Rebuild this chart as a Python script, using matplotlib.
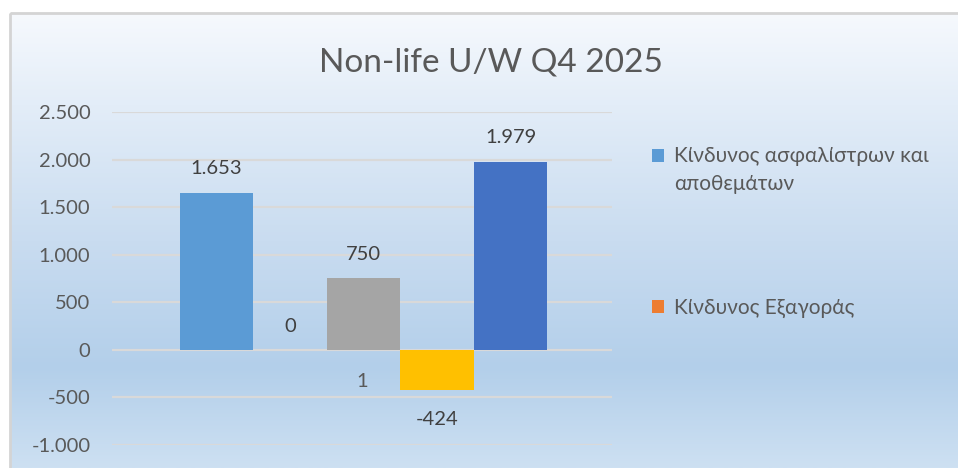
import numpy as np
import matplotlib
matplotlib.use("Agg")
import matplotlib.pyplot as plt
from matplotlib.colors import LinearSegmentedColormap
from matplotlib.legend_handler import HandlerPatch
from matplotlib.patches import Rectangle

plt.rcParams['font.family'] = ['Lato', 'Open Sans', 'DejaVu Sans']

# ---- data ----
title = "Non-life U/W Q4 2025"
categories = ["1"]
series_names = ["Κίνδυνος ασφαλίστρων και\nαποθεμάτων", "Κίνδυνος Εξαγοράς",
                "Series 3", "Series 4", "Series 5"]
series_values = [[1653], [0], [750], [-424], [1979]]
series_colors = ["#5B9BD5", "#ED7D31", "#A5A5A5", "#FFC000", "#4472C4"]
legend_series = [0, 1]
y_ticks = [-1000, -500, 0, 500, 1000, 1500, 2000, 2500]


def fmt(v):
    return f"{v:,.0f}".replace(",", ".")


W, H = 958, 468
fig = plt.figure(figsize=(W / 100, H / 100), dpi=100)

# background with gradient (Excel style chart area)
bg = fig.add_axes([0, 0, 1, 1], zorder=-10)
bg.set_xlim(0, W)
bg.set_ylim(H, 0)
bg.axis('off')
cmap = LinearSegmentedColormap.from_list(
    "bg", [(0.0, "#F6F9FD"), (0.2, "#E3EDF8"), (0.5, "#C9DCF0"),
           (0.78, "#B3CFEA"), (1.0, "#CDE0F2")])
grad = np.linspace(0, 1, 256).reshape(-1, 1)
bg.imshow(grad, cmap=cmap, aspect='auto', extent=(10, W, H, 13),
          interpolation='bilinear')
bg.add_patch(Rectangle((10, 13), W, H, fill=False, edgecolor="#D4D4D4", lw=2))

# main plot area
ax = fig.add_axes([112 / W, 23 / H, 500 / W, 333 / H])
ax.set_facecolor('none')

x = np.arange(len(categories))
n = len(series_values)
width = 0.147
containers = []
for i, (vals, col) in enumerate(zip(series_values, series_colors)):
    bc = ax.bar(x + (i - (n - 1) / 2) * width + 0.003, vals, width, color=col,
                linewidth=0, zorder=3, label=series_names[i])
    containers.append(bc)
    ax.bar_label(bc, labels=[fmt(v) for v in vals],
                 padding=11 if vals[0] >= 0 else 15,
                 fontsize=14.5, color="#404040")

ax.set_xlim(-0.5, len(categories) - 0.5)
ax.set_ylim(-1000, 2500)
ax.set_yticks(y_ticks)
ax.set_yticklabels([fmt(v) for v in y_ticks])
ax.set_xticks(x)
ax.set_xticklabels(categories)
ax.spines['bottom'].set_position(('data', 0))
for s in ax.spines.values():
    s.set_visible(False)
ax.tick_params(axis='y', length=0, pad=15.5, labelsize=14.5, labelcolor="#595959")
ax.tick_params(axis='x', length=0, pad=17, labelsize=14.5, labelcolor="#595959")
ax.yaxis.grid(True, color="#D9D9D9", lw=1.6, zorder=0)
ax.set_axisbelow(True)

fig.text(491 / W, 1 - 62 / H, title, ha='center', va='center',
         fontsize=24, color="#595959", fontweight='normal')


def shifted_patch(legend, orig_handle, xdescent, ydescent, width, height, fontsize):
    return Rectangle((-xdescent, -ydescent + 11), width, height)


handles = [containers[i].patches[0] for i in legend_series]
labels = [series_names[i] for i in legend_series]
leg = fig.legend(handles, labels, loc='upper left',
                 bbox_to_anchor=(652 / W, 1 - 146 / H),
                 frameon=False, fontsize=15, labelcolor="#595959",
                 handlelength=0.58, handleheight=0.58, handletextpad=0.5,
                 borderpad=0, borderaxespad=0, labelspacing=5.0,
                 handler_map={handles[0]: HandlerPatch(patch_func=shifted_patch)})
for t in leg.get_texts():
    t.set_linespacing(1.5)

fig.savefig("out.png", dpi=100)
